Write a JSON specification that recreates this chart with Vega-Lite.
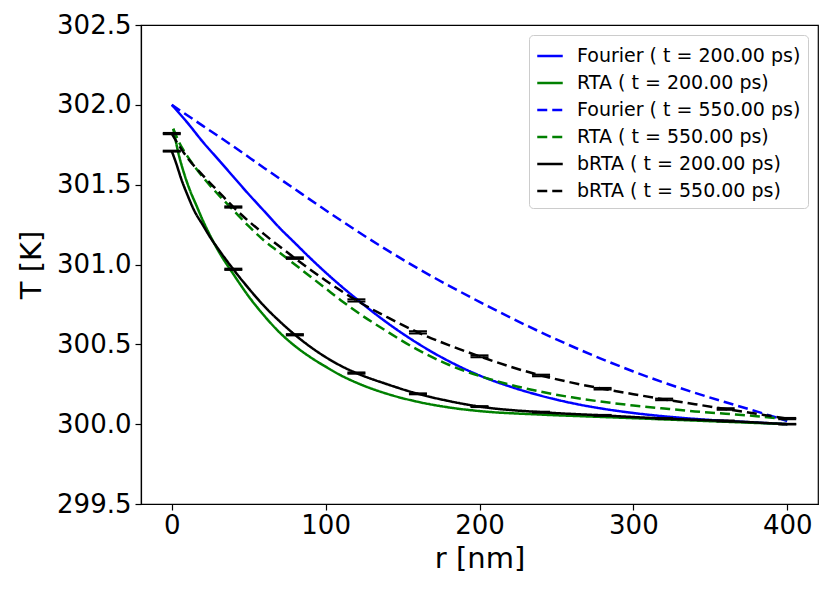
{
  "$schema": "https://vega.github.io/schema/vega-lite/v6.json",
  "width": 677,
  "height": 479,
  "autosize": {"type": "none"},
  "padding": {"left": 141, "top": 25, "right": 13, "bottom": 88},
  "background": "white",
  "datasets": {
    "curves": [
      {"series": "Fourier ( t = 200.00 ps)", "r": 0, "T": 302.0},
      {"series": "Fourier ( t = 200.00 ps)", "r": 10, "T": 301.89},
      {"series": "Fourier ( t = 200.00 ps)", "r": 20, "T": 301.77},
      {"series": "Fourier ( t = 200.00 ps)", "r": 30, "T": 301.66},
      {"series": "Fourier ( t = 200.00 ps)", "r": 40, "T": 301.55},
      {"series": "Fourier ( t = 200.00 ps)", "r": 50, "T": 301.44},
      {"series": "Fourier ( t = 200.00 ps)", "r": 60, "T": 301.335},
      {"series": "Fourier ( t = 200.00 ps)", "r": 70, "T": 301.23},
      {"series": "Fourier ( t = 200.00 ps)", "r": 80, "T": 301.135},
      {"series": "Fourier ( t = 200.00 ps)", "r": 90, "T": 301.04},
      {"series": "Fourier ( t = 200.00 ps)", "r": 100, "T": 300.95},
      {"series": "Fourier ( t = 200.00 ps)", "r": 110, "T": 300.865},
      {"series": "Fourier ( t = 200.00 ps)", "r": 120, "T": 300.785},
      {"series": "Fourier ( t = 200.00 ps)", "r": 140, "T": 300.635},
      {"series": "Fourier ( t = 200.00 ps)", "r": 160, "T": 300.505},
      {"series": "Fourier ( t = 200.00 ps)", "r": 180, "T": 300.395},
      {"series": "Fourier ( t = 200.00 ps)", "r": 200, "T": 300.305},
      {"series": "Fourier ( t = 200.00 ps)", "r": 220, "T": 300.235},
      {"series": "Fourier ( t = 200.00 ps)", "r": 240, "T": 300.178},
      {"series": "Fourier ( t = 200.00 ps)", "r": 260, "T": 300.132},
      {"series": "Fourier ( t = 200.00 ps)", "r": 280, "T": 300.097},
      {"series": "Fourier ( t = 200.00 ps)", "r": 300, "T": 300.07},
      {"series": "Fourier ( t = 200.00 ps)", "r": 320, "T": 300.049},
      {"series": "Fourier ( t = 200.00 ps)", "r": 340, "T": 300.033},
      {"series": "Fourier ( t = 200.00 ps)", "r": 360, "T": 300.02},
      {"series": "Fourier ( t = 200.00 ps)", "r": 380, "T": 300.01},
      {"series": "Fourier ( t = 200.00 ps)", "r": 400, "T": 300.0},

      {"series": "RTA ( t = 200.00 ps)", "r": 1, "T": 301.85},
      {"series": "RTA ( t = 200.00 ps)", "r": 4, "T": 301.71},
      {"series": "RTA ( t = 200.00 ps)", "r": 8, "T": 301.57},
      {"series": "RTA ( t = 200.00 ps)", "r": 12, "T": 301.46},
      {"series": "RTA ( t = 200.00 ps)", "r": 16, "T": 301.37},
      {"series": "RTA ( t = 200.00 ps)", "r": 20, "T": 301.28},
      {"series": "RTA ( t = 200.00 ps)", "r": 25, "T": 301.18},
      {"series": "RTA ( t = 200.00 ps)", "r": 30, "T": 301.09},
      {"series": "RTA ( t = 200.00 ps)", "r": 40, "T": 300.94},
      {"series": "RTA ( t = 200.00 ps)", "r": 50, "T": 300.8},
      {"series": "RTA ( t = 200.00 ps)", "r": 60, "T": 300.68},
      {"series": "RTA ( t = 200.00 ps)", "r": 70, "T": 300.575},
      {"series": "RTA ( t = 200.00 ps)", "r": 80, "T": 300.49},
      {"series": "RTA ( t = 200.00 ps)", "r": 90, "T": 300.42},
      {"series": "RTA ( t = 200.00 ps)", "r": 100, "T": 300.36},
      {"series": "RTA ( t = 200.00 ps)", "r": 110, "T": 300.305},
      {"series": "RTA ( t = 200.00 ps)", "r": 120, "T": 300.26},
      {"series": "RTA ( t = 200.00 ps)", "r": 140, "T": 300.19},
      {"series": "RTA ( t = 200.00 ps)", "r": 160, "T": 300.14},
      {"series": "RTA ( t = 200.00 ps)", "r": 180, "T": 300.105},
      {"series": "RTA ( t = 200.00 ps)", "r": 200, "T": 300.082},
      {"series": "RTA ( t = 200.00 ps)", "r": 240, "T": 300.06},
      {"series": "RTA ( t = 200.00 ps)", "r": 280, "T": 300.045},
      {"series": "RTA ( t = 200.00 ps)", "r": 320, "T": 300.03},
      {"series": "RTA ( t = 200.00 ps)", "r": 360, "T": 300.015},
      {"series": "RTA ( t = 200.00 ps)", "r": 400, "T": 300.0},

      {"series": "Fourier ( t = 550.00 ps)", "r": 0, "T": 302.0},
      {"series": "Fourier ( t = 550.00 ps)", "r": 20, "T": 301.87},
      {"series": "Fourier ( t = 550.00 ps)", "r": 40, "T": 301.74},
      {"series": "Fourier ( t = 550.00 ps)", "r": 60, "T": 301.605},
      {"series": "Fourier ( t = 550.00 ps)", "r": 80, "T": 301.472},
      {"series": "Fourier ( t = 550.00 ps)", "r": 100, "T": 301.34},
      {"series": "Fourier ( t = 550.00 ps)", "r": 120, "T": 301.212},
      {"series": "Fourier ( t = 550.00 ps)", "r": 140, "T": 301.09},
      {"series": "Fourier ( t = 550.00 ps)", "r": 160, "T": 300.975},
      {"series": "Fourier ( t = 550.00 ps)", "r": 180, "T": 300.868},
      {"series": "Fourier ( t = 550.00 ps)", "r": 200, "T": 300.766},
      {"series": "Fourier ( t = 550.00 ps)", "r": 220, "T": 300.668},
      {"series": "Fourier ( t = 550.00 ps)", "r": 240, "T": 300.575},
      {"series": "Fourier ( t = 550.00 ps)", "r": 260, "T": 300.488},
      {"series": "Fourier ( t = 550.00 ps)", "r": 280, "T": 300.406},
      {"series": "Fourier ( t = 550.00 ps)", "r": 300, "T": 300.33},
      {"series": "Fourier ( t = 550.00 ps)", "r": 320, "T": 300.26},
      {"series": "Fourier ( t = 550.00 ps)", "r": 340, "T": 300.196},
      {"series": "Fourier ( t = 550.00 ps)", "r": 360, "T": 300.137},
      {"series": "Fourier ( t = 550.00 ps)", "r": 380, "T": 300.08},
      {"series": "Fourier ( t = 550.00 ps)", "r": 400, "T": 300.02},

      {"series": "RTA ( t = 550.00 ps)", "r": 1, "T": 301.85},
      {"series": "RTA ( t = 550.00 ps)", "r": 5, "T": 301.76},
      {"series": "RTA ( t = 550.00 ps)", "r": 10, "T": 301.68},
      {"series": "RTA ( t = 550.00 ps)", "r": 20, "T": 301.55},
      {"series": "RTA ( t = 550.00 ps)", "r": 30, "T": 301.44},
      {"series": "RTA ( t = 550.00 ps)", "r": 40, "T": 301.34},
      {"series": "RTA ( t = 550.00 ps)", "r": 50, "T": 301.24},
      {"series": "RTA ( t = 550.00 ps)", "r": 60, "T": 301.15},
      {"series": "RTA ( t = 550.00 ps)", "r": 70, "T": 301.075},
      {"series": "RTA ( t = 550.00 ps)", "r": 80, "T": 301.0},
      {"series": "RTA ( t = 550.00 ps)", "r": 90, "T": 300.925},
      {"series": "RTA ( t = 550.00 ps)", "r": 100, "T": 300.85},
      {"series": "RTA ( t = 550.00 ps)", "r": 110, "T": 300.775},
      {"series": "RTA ( t = 550.00 ps)", "r": 120, "T": 300.705},
      {"series": "RTA ( t = 550.00 ps)", "r": 140, "T": 300.58},
      {"series": "RTA ( t = 550.00 ps)", "r": 160, "T": 300.465},
      {"series": "RTA ( t = 550.00 ps)", "r": 180, "T": 300.372},
      {"series": "RTA ( t = 550.00 ps)", "r": 200, "T": 300.302},
      {"series": "RTA ( t = 550.00 ps)", "r": 220, "T": 300.247},
      {"series": "RTA ( t = 550.00 ps)", "r": 240, "T": 300.203},
      {"series": "RTA ( t = 550.00 ps)", "r": 260, "T": 300.168},
      {"series": "RTA ( t = 550.00 ps)", "r": 280, "T": 300.14},
      {"series": "RTA ( t = 550.00 ps)", "r": 300, "T": 300.117},
      {"series": "RTA ( t = 550.00 ps)", "r": 320, "T": 300.098},
      {"series": "RTA ( t = 550.00 ps)", "r": 340, "T": 300.08},
      {"series": "RTA ( t = 550.00 ps)", "r": 360, "T": 300.065},
      {"series": "RTA ( t = 550.00 ps)", "r": 380, "T": 300.05},
      {"series": "RTA ( t = 550.00 ps)", "r": 400, "T": 300.03},

      {"series": "bRTA ( t = 200.00 ps)", "r": 0, "T": 301.71},
      {"series": "bRTA ( t = 200.00 ps)", "r": 3, "T": 301.63},
      {"series": "bRTA ( t = 200.00 ps)", "r": 6, "T": 301.54},
      {"series": "bRTA ( t = 200.00 ps)", "r": 10, "T": 301.44},
      {"series": "bRTA ( t = 200.00 ps)", "r": 15, "T": 301.33},
      {"series": "bRTA ( t = 200.00 ps)", "r": 20, "T": 301.25},
      {"series": "bRTA ( t = 200.00 ps)", "r": 25, "T": 301.17},
      {"series": "bRTA ( t = 200.00 ps)", "r": 30, "T": 301.1},
      {"series": "bRTA ( t = 200.00 ps)", "r": 40, "T": 300.97},
      {"series": "bRTA ( t = 200.00 ps)", "r": 50, "T": 300.85},
      {"series": "bRTA ( t = 200.00 ps)", "r": 60, "T": 300.74},
      {"series": "bRTA ( t = 200.00 ps)", "r": 70, "T": 300.645},
      {"series": "bRTA ( t = 200.00 ps)", "r": 80, "T": 300.56},
      {"series": "bRTA ( t = 200.00 ps)", "r": 90, "T": 300.485},
      {"series": "bRTA ( t = 200.00 ps)", "r": 100, "T": 300.42},
      {"series": "bRTA ( t = 200.00 ps)", "r": 110, "T": 300.365},
      {"series": "bRTA ( t = 200.00 ps)", "r": 120, "T": 300.32},
      {"series": "bRTA ( t = 200.00 ps)", "r": 140, "T": 300.25},
      {"series": "bRTA ( t = 200.00 ps)", "r": 160, "T": 300.19},
      {"series": "bRTA ( t = 200.00 ps)", "r": 180, "T": 300.145},
      {"series": "bRTA ( t = 200.00 ps)", "r": 200, "T": 300.11},
      {"series": "bRTA ( t = 200.00 ps)", "r": 240, "T": 300.075},
      {"series": "bRTA ( t = 200.00 ps)", "r": 280, "T": 300.055},
      {"series": "bRTA ( t = 200.00 ps)", "r": 320, "T": 300.035},
      {"series": "bRTA ( t = 200.00 ps)", "r": 360, "T": 300.02},
      {"series": "bRTA ( t = 200.00 ps)", "r": 400, "T": 300.0},

      {"series": "bRTA ( t = 550.00 ps)", "r": 0, "T": 301.82},
      {"series": "bRTA ( t = 550.00 ps)", "r": 5, "T": 301.74},
      {"series": "bRTA ( t = 550.00 ps)", "r": 10, "T": 301.67},
      {"series": "bRTA ( t = 550.00 ps)", "r": 20, "T": 301.56},
      {"series": "bRTA ( t = 550.00 ps)", "r": 30, "T": 301.46},
      {"series": "bRTA ( t = 550.00 ps)", "r": 40, "T": 301.36},
      {"series": "bRTA ( t = 550.00 ps)", "r": 60, "T": 301.19},
      {"series": "bRTA ( t = 550.00 ps)", "r": 80, "T": 301.04},
      {"series": "bRTA ( t = 550.00 ps)", "r": 100, "T": 300.9},
      {"series": "bRTA ( t = 550.00 ps)", "r": 120, "T": 300.775},
      {"series": "bRTA ( t = 550.00 ps)", "r": 140, "T": 300.67},
      {"series": "bRTA ( t = 550.00 ps)", "r": 160, "T": 300.575},
      {"series": "bRTA ( t = 550.00 ps)", "r": 180, "T": 300.495},
      {"series": "bRTA ( t = 550.00 ps)", "r": 200, "T": 300.425},
      {"series": "bRTA ( t = 550.00 ps)", "r": 220, "T": 300.36},
      {"series": "bRTA ( t = 550.00 ps)", "r": 240, "T": 300.305},
      {"series": "bRTA ( t = 550.00 ps)", "r": 260, "T": 300.26},
      {"series": "bRTA ( t = 550.00 ps)", "r": 280, "T": 300.222},
      {"series": "bRTA ( t = 550.00 ps)", "r": 300, "T": 300.188},
      {"series": "bRTA ( t = 550.00 ps)", "r": 320, "T": 300.155},
      {"series": "bRTA ( t = 550.00 ps)", "r": 340, "T": 300.125},
      {"series": "bRTA ( t = 550.00 ps)", "r": 360, "T": 300.095},
      {"series": "bRTA ( t = 550.00 ps)", "r": 380, "T": 300.065},
      {"series": "bRTA ( t = 550.00 ps)", "r": 400, "T": 300.035}
    ],
    "bars": [
      {"series": "bRTA ( t = 200.00 ps)", "r": 0, "lo": 301.707, "hi": 301.713},
      {"series": "bRTA ( t = 200.00 ps)", "r": 40, "lo": 300.966, "hi": 300.974},
      {"series": "bRTA ( t = 200.00 ps)", "r": 80, "lo": 300.556, "hi": 300.564},
      {"series": "bRTA ( t = 200.00 ps)", "r": 120, "lo": 300.316, "hi": 300.324},
      {"series": "bRTA ( t = 200.00 ps)", "r": 160, "lo": 300.187, "hi": 300.193},
      {"series": "bRTA ( t = 200.00 ps)", "r": 200, "lo": 300.107, "hi": 300.113},
      {"series": "bRTA ( t = 200.00 ps)", "r": 240, "lo": 300.072, "hi": 300.078},
      {"series": "bRTA ( t = 200.00 ps)", "r": 280, "lo": 300.052, "hi": 300.058},
      {"series": "bRTA ( t = 200.00 ps)", "r": 320, "lo": 300.032, "hi": 300.038},
      {"series": "bRTA ( t = 200.00 ps)", "r": 360, "lo": 300.017, "hi": 300.023},
      {"series": "bRTA ( t = 200.00 ps)", "r": 400, "lo": 299.998, "hi": 300.002},
      {"series": "bRTA ( t = 550.00 ps)", "r": 0, "lo": 301.816, "hi": 301.824},
      {"series": "bRTA ( t = 550.00 ps)", "r": 40, "lo": 301.356, "hi": 301.364},
      {"series": "bRTA ( t = 550.00 ps)", "r": 80, "lo": 301.035, "hi": 301.045},
      {"series": "bRTA ( t = 550.00 ps)", "r": 120, "lo": 300.768, "hi": 300.782},
      {"series": "bRTA ( t = 550.00 ps)", "r": 160, "lo": 300.568, "hi": 300.582},
      {"series": "bRTA ( t = 550.00 ps)", "r": 200, "lo": 300.419, "hi": 300.431},
      {"series": "bRTA ( t = 550.00 ps)", "r": 240, "lo": 300.3, "hi": 300.31},
      {"series": "bRTA ( t = 550.00 ps)", "r": 280, "lo": 300.217, "hi": 300.227},
      {"series": "bRTA ( t = 550.00 ps)", "r": 320, "lo": 300.15, "hi": 300.16},
      {"series": "bRTA ( t = 550.00 ps)", "r": 360, "lo": 300.09, "hi": 300.1},
      {"series": "bRTA ( t = 550.00 ps)", "r": 400, "lo": 300.031, "hi": 300.039}
    ]
  },
  "config": {
    "font": "DejaVu Sans",
    "view": {"stroke": "black", "strokeWidth": 1.2},
    "axis": {
      "grid": false,
      "domainColor": "black",
      "domainWidth": 1.2,
      "tickColor": "black",
      "tickWidth": 1.2,
      "tickSize": 6,
      "labelColor": "black",
      "labelFontSize": 26,
      "titleColor": "black",
      "titleFontSize": 29,
      "titleFontWeight": "normal",
      "labelFont": "DejaVu Sans",
      "titleFont": "DejaVu Sans"
    },
    "legend": {
      "orient": "top-right",
      "offset": 10,
      "padding": 7,
      "fillColor": "rgba(255,255,255,0.85)",
      "strokeColor": "#cccccc",
      "cornerRadius": 4,
      "labelFontSize": 19,
      "labelFont": "DejaVu Sans",
      "labelColor": "black",
      "labelLimit": 0,
      "labelOffset": 13,
      "symbolType": "stroke",
      "symbolSize": 650,
      "symbolStrokeWidth": 2.5,
      "rowPadding": 3
    }
  },
  "layer": [
    {
      "data": {"name": "curves"},
      "mark": {"type": "line", "strokeWidth": 2.5, "interpolate": "monotone", "clip": true},
      "encoding": {
        "x": {
          "field": "r",
          "type": "quantitative",
          "title": "r [nm]",
          "scale": {"domain": [-20, 420], "nice": false, "zero": false},
          "axis": {"values": [0, 100, 200, 300, 400], "labelPadding": 2, "titlePadding": 6}
        },
        "y": {
          "field": "T",
          "type": "quantitative",
          "title": "T [K]",
          "scale": {"domain": [299.5, 302.5], "nice": false, "zero": false},
          "axis": {"values": [299.5, 300.0, 300.5, 301.0, 301.5, 302.0, 302.5], "format": ".1f", "labelPadding": 4, "titlePadding": 10}
        },
        "color": {
          "field": "series",
          "type": "nominal",
          "title": null,
          "scale": {
            "domain": ["Fourier ( t = 200.00 ps)", "RTA ( t = 200.00 ps)", "Fourier ( t = 550.00 ps)", "RTA ( t = 550.00 ps)", "bRTA ( t = 200.00 ps)", "bRTA ( t = 550.00 ps)"],
            "range": ["#0000ff", "#008000", "#0000ff", "#008000", "#000000", "#000000"]
          }
        },
        "strokeDash": {
          "field": "series",
          "type": "nominal",
          "title": null,
          "scale": {
            "domain": ["Fourier ( t = 200.00 ps)", "RTA ( t = 200.00 ps)", "Fourier ( t = 550.00 ps)", "RTA ( t = 550.00 ps)", "bRTA ( t = 200.00 ps)", "bRTA ( t = 550.00 ps)"],
            "range": [[1, 0], [1, 0], [10, 5], [10, 5], [1, 0], [10, 5]]
          }
        }
      }
    },
    {
      "data": {"name": "bars"},
      "mark": {"type": "rule", "color": "black", "strokeWidth": 2},
      "encoding": {
        "x": {"field": "r", "type": "quantitative"},
        "y": {"field": "lo", "type": "quantitative"},
        "y2": {"field": "hi"}
      }
    },
    {
      "data": {"name": "bars"},
      "mark": {"type": "tick", "orient": "horizontal", "color": "black", "opacity": 1, "size": 18, "thickness": 2},
      "encoding": {
        "x": {"field": "r", "type": "quantitative"},
        "y": {"field": "lo", "type": "quantitative"}
      }
    },
    {
      "data": {"name": "bars"},
      "mark": {"type": "tick", "orient": "horizontal", "color": "black", "opacity": 1, "size": 18, "thickness": 2},
      "encoding": {
        "x": {"field": "r", "type": "quantitative"},
        "y": {"field": "hi", "type": "quantitative"}
      }
    }
  ]
}
